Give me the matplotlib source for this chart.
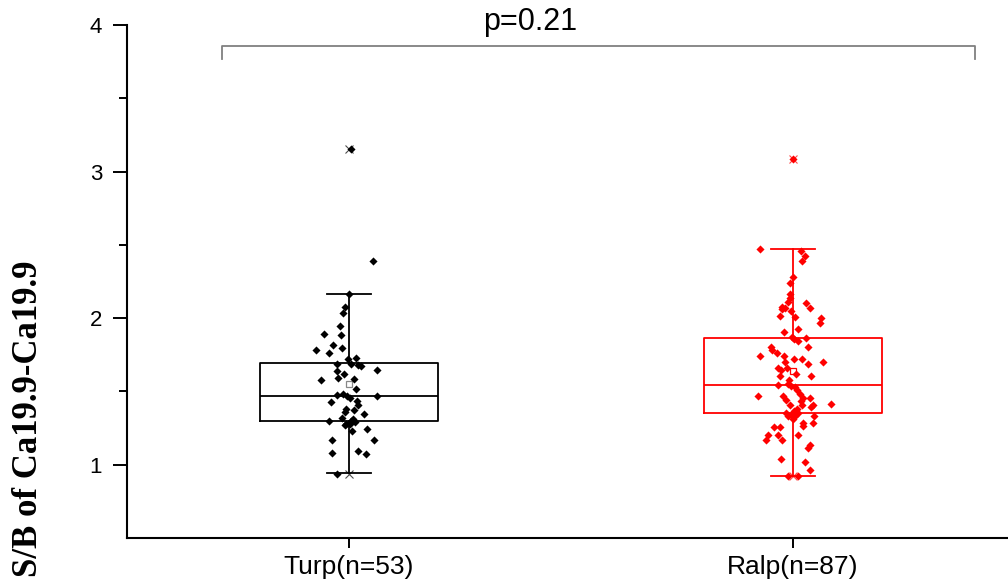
import matplotlib
matplotlib.use("Agg")
import matplotlib.pyplot as plt
import numpy as np

# group labels
groups = ["Turp(n=53)", "Ralp(n=87)"]
colors = ["black", "#ff0000"]

# box statistics: q1, median, q3, lower whisker, upper whisker, mean
q1 = [1.30, 1.35]
median = [1.47, 1.545]
q3 = [1.695, 1.866]
whis_lo = [0.94, 0.925]
whis_hi = [2.166, 2.47]
means = [1.55, 1.64]

# individual points (value, horizontal jitter in category units)
turp_values = [3.155, 2.391, 2.166, 2.079, 2.034, 1.948, 1.893, 1.884, 1.816, 1.795,
               1.784, 1.763, 1.727, 1.686, 1.686, 1.681, 1.677, 1.641, 1.643, 1.579,
               1.591, 1.586, 1.477, 1.484, 1.455, 1.438, 1.466, 1.427, 1.409, 1.380,
               1.375, 1.357, 1.346, 1.318, 1.300, 1.300, 1.279, 1.275, 1.290, 1.270,
               1.245, 1.227, 1.170, 1.170, 1.080, 1.091, 1.070, 0.937, 1.470, 1.310,
               1.620, 1.520, 1.720]
turp_jitter = [0.005, 0.054, 0.000, -0.010, -0.014, -0.021, -0.056, -0.019, -0.036, -0.015,
               -0.074, -0.045, 0.015, -0.027, 0.005, 0.020, 0.026, -0.027, 0.062, -0.064,
               -0.025, 0.011, -0.028, -0.014, 0.002, 0.019, 0.062, -0.040, 0.020, -0.006,
               0.011, -0.010, 0.034, -0.016, -0.046, 0.005, -0.006, 0.002, 0.013, -0.010,
               0.041, 0.007, -0.038, 0.056, -0.038, 0.020, 0.038, -0.026, -0.005, 0.008,
               -0.012, 0.016, -0.003]

ralp_values = [3.09, 2.474, 2.459, 2.425, 2.393, 2.279, 2.239, 2.166, 2.136, 2.113,
               2.102, 2.079, 2.072, 2.063, 2.072, 2.050, 2.016, 2.007, 2.000, 1.970,
               1.909, 1.927, 1.859, 1.868, 1.841, 1.806, 1.806, 1.784, 1.761, 1.745,
               1.745, 1.723, 1.723, 1.704, 1.704, 1.659, 1.648, 1.659, 1.688, 1.607,
               1.607, 1.541, 1.550, 1.539, 1.527, 1.511, 1.466, 1.466, 1.455, 1.455,
               1.409, 1.432, 1.409, 1.409, 1.391, 1.414, 1.382, 1.368, 1.352, 1.329,
               1.341, 1.329, 1.352, 1.329, 1.314, 1.284, 1.261, 1.286, 1.257, 1.257,
               1.204, 1.200, 1.204, 1.170, 1.170, 1.132, 1.114, 1.041, 1.016, 0.966,
               0.925, 0.925, 1.870, 1.620, 1.580, 1.480, 1.440]
ralp_jitter = [0.000, -0.075, 0.017, 0.026, 0.019, 0.000, -0.007, -0.007, -0.007, -0.011,
               0.028, -0.026, -0.019, -0.025, 0.039, -0.005, -0.030, 0.005, 0.062, 0.060,
               -0.020, 0.011, 0.002, 0.030, 0.011, 0.034, -0.050, -0.047, -0.036, -0.020,
               -0.075, 0.002, 0.019, -0.019, 0.068, -0.035, -0.028, -0.013, 0.034, -0.030,
               0.040, -0.034, -0.011, -0.004, 0.004, 0.008, -0.080, -0.023, 0.023, 0.038,
               -0.007, 0.017, 0.020, 0.045, 0.040, 0.085, 0.008, 0.002, -0.015, -0.011,
               -0.004, 0.004, 0.010, 0.047, 0.000, 0.023, 0.023, 0.044, -0.043, -0.030,
               -0.056, -0.034, 0.011, -0.060, -0.025, 0.038, 0.034, -0.028, 0.026, 0.038,
               0.011, -0.012, -0.003, 0.006, -0.009, 0.015, -0.016]

p_text = "p=0.21"

point_values = [turp_values, ralp_values]
point_jitter = [turp_jitter, ralp_jitter]

fig = plt.figure(figsize=(10.08, 5.86), dpi=100)
ax = fig.add_axes([0.126, 0.082, 0.874, 0.875])

positions = [1, 2]
for i in range(len(groups)):
    stats = [{"med": median[i], "q1": q1[i], "q3": q3[i],
              "whislo": whis_lo[i], "whishi": whis_hi[i],
              "mean": means[i], "fliers": []}]
    c = colors[i]
    ax.bxp(stats, positions=[positions[i]], widths=0.4, showmeans=True,
           showfliers=False, patch_artist=False,
           boxprops=dict(color=c, linewidth=1.3),
           medianprops=dict(color=c, linewidth=1.3),
           whiskerprops=dict(color=c, linewidth=1.3),
           capprops=dict(color=c, linewidth=1.3),
           capwidths=0.1,
           meanprops=dict(marker="s", markersize=5, markerfacecolor="white",
                          markeredgecolor=c if i == 1 else "#888888",
                          markeredgewidth=0.9))

    vals = np.array(point_values[i])
    xs = positions[i] + np.array(point_jitter[i])
    ax.scatter(xs, vals, marker="D", s=17, color=c, zorder=3, linewidths=0)

    # min / max markers
    ax.plot([positions[i], positions[i]], [vals.min(), vals.max()], linestyle="none",
            marker="x", markersize=6, color=c, markeredgewidth=0.8, alpha=0.7, zorder=4)

# significance bracket
br_left, br_right, br_top, br_bottom = 0.714, 2.41, 3.855, 3.77
ax.plot([br_left, br_left, br_right, br_right], [br_bottom, br_top, br_top, br_bottom],
        color="#808080", linewidth=1.3, clip_on=False)
ax.text(1.408, 4.02, p_text, ha="center", va="center", fontsize=22,
        family="Liberation Sans", clip_on=False)

ax.set_xlim(0.5, 2.484)
ax.set_ylim(0.5, 4)
ax.set_xticks(positions)
ax.set_xticklabels(groups, fontsize=19, family="Liberation Sans")
ax.set_yticks([1, 2, 3, 4])
ax.set_yticks([1.5, 2.5, 3.5], minor=True)
ax.set_yticklabels(["1", "2", "3", "4"], fontsize=16, family="Liberation Sans")

ax.spines["top"].set_visible(False)
ax.spines["right"].set_visible(False)
ax.spines["left"].set_linewidth(1.5)
ax.spines["bottom"].set_linewidth(1.5)
ax.tick_params(axis="y", which="major", direction="out", length=10, width=1.4, pad=8)
ax.tick_params(axis="y", which="minor", direction="out", length=6, width=1.4)
ax.tick_params(axis="x", which="major", direction="out", length=7, width=1.4, pad=5)

fig.text(0.028, 0.285, "S/B of Ca19.9-Ca19.9", rotation=90, ha="center", va="center",
         fontsize=25, fontweight="bold", family="Liberation Serif")

fig.savefig("out.png", dpi=100)
